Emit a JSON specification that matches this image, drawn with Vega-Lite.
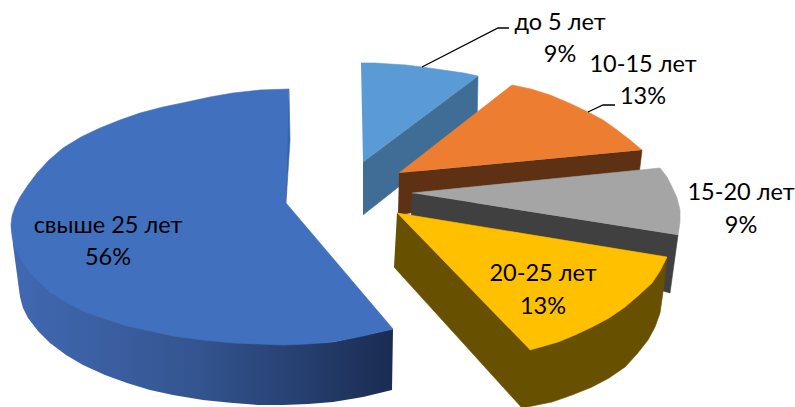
{"$schema":"https://vega.github.io/schema/vega-lite/v6.json","width":795,"height":407,"autosize":{"type":"none","contains":"padding"},"padding":0,"background":"white","view":{"stroke":null},
"datasets":{
"wall":[{"o":1,"x":11,"y":223},{"o":2,"x":13,"y":245},{"o":3,"x":16,"y":267},{"o":4,"x":20,"y":297},{"o":5,"x":23,"y":308},{"o":6,"x":28,"y":318},{"o":7,"x":38,"y":331},{"o":8,"x":50,"y":343},{"o":9,"x":66,"y":355},{"o":10,"x":83,"y":365},{"o":11,"x":105,"y":375},{"o":12,"x":127,"y":383},{"o":13,"x":150,"y":390},{"o":14,"x":173,"y":395},{"o":15,"x":203,"y":400},{"o":16,"x":233,"y":403},{"o":17,"x":258,"y":405},{"o":18,"x":283,"y":405},{"o":19,"x":308,"y":404},{"o":20,"x":333,"y":402},{"o":21,"x":363,"y":397},{"o":22,"x":392,"y":390},{"o":23,"x":393,"y":329},{"o":24,"x":333,"y":342},{"o":25,"x":283,"y":344},{"o":26,"x":173,"y":335},{"o":27,"x":50,"y":292}],
"outline":[
{"part":"blue-inner","o":1,"x":289,"y":89},{"part":"blue-inner","o":2,"x":290,"y":140},{"part":"blue-inner","o":3,"x":286,"y":203},{"part":"blue-inner","o":4,"x":281,"y":198},{"part":"blue-inner","o":5,"x":285,"y":140},
{"part":"blue-top","o":1,"x":289,"y":89},{"part":"blue-top","o":2,"x":260,"y":90},{"part":"blue-top","o":3,"x":233,"y":93},{"part":"blue-top","o":4,"x":210,"y":97},{"part":"blue-top","o":5,"x":187,"y":102},{"part":"blue-top","o":6,"x":163,"y":107},{"part":"blue-top","o":7,"x":140,"y":113},{"part":"blue-top","o":8,"x":120,"y":120},{"part":"blue-top","o":9,"x":100,"y":128},{"part":"blue-top","o":10,"x":81,"y":137},{"part":"blue-top","o":11,"x":63,"y":148},{"part":"blue-top","o":12,"x":49,"y":160},{"part":"blue-top","o":13,"x":37,"y":173},{"part":"blue-top","o":14,"x":28,"y":185},{"part":"blue-top","o":15,"x":20,"y":197},{"part":"blue-top","o":16,"x":15,"y":207},{"part":"blue-top","o":17,"x":12,"y":216},{"part":"blue-top","o":18,"x":11,"y":225},{"part":"blue-top","o":19,"x":12,"y":236},{"part":"blue-top","o":20,"x":15,"y":247},{"part":"blue-top","o":21,"x":21,"y":259},{"part":"blue-top","o":22,"x":28,"y":270},{"part":"blue-top","o":23,"x":38,"y":281},{"part":"blue-top","o":24,"x":50,"y":292},{"part":"blue-top","o":25,"x":66,"y":302},{"part":"blue-top","o":26,"x":83,"y":311},{"part":"blue-top","o":27,"x":105,"y":319},{"part":"blue-top","o":28,"x":127,"y":326},{"part":"blue-top","o":29,"x":150,"y":331},{"part":"blue-top","o":30,"x":173,"y":336},{"part":"blue-top","o":31,"x":203,"y":340},{"part":"blue-top","o":32,"x":233,"y":343},{"part":"blue-top","o":33,"x":258,"y":344},{"part":"blue-top","o":34,"x":283,"y":345},{"part":"blue-top","o":35,"x":308,"y":344},{"part":"blue-top","o":36,"x":333,"y":342},{"part":"blue-top","o":37,"x":363,"y":336},{"part":"blue-top","o":38,"x":393,"y":329},{"part":"blue-top","o":39,"x":286,"y":203},
{"part":"light-wall","o":1,"x":363,"y":162},{"part":"light-wall","o":2,"x":478,"y":76},{"part":"light-wall","o":3,"x":477,"y":125},{"part":"light-wall","o":4,"x":363,"y":215},
{"part":"light-top","o":1,"x":361,"y":63},{"part":"light-top","o":2,"x":375,"y":63},{"part":"light-top","o":3,"x":390,"y":64},{"part":"light-top","o":4,"x":406,"y":65},{"part":"light-top","o":5,"x":422,"y":67},{"part":"light-top","o":6,"x":436,"y":69},{"part":"light-top","o":7,"x":450,"y":71},{"part":"light-top","o":8,"x":464,"y":73},{"part":"light-top","o":9,"x":478,"y":76},{"part":"light-top","o":10,"x":363,"y":162},
{"part":"orange-wall","o":1,"x":399,"y":173},{"part":"orange-wall","o":2,"x":642,"y":150},{"part":"orange-wall","o":3,"x":639,"y":175},{"part":"orange-wall","o":4,"x":398,"y":215},
{"part":"orange-top","o":1,"x":399,"y":173},{"part":"orange-top","o":2,"x":512,"y":85},{"part":"orange-top","o":3,"x":531,"y":89},{"part":"orange-top","o":4,"x":550,"y":95},{"part":"orange-top","o":5,"x":569,"y":103},{"part":"orange-top","o":6,"x":588,"y":112},{"part":"orange-top","o":7,"x":603,"y":120},{"part":"orange-top","o":8,"x":617,"y":130},{"part":"orange-top","o":9,"x":630,"y":140},{"part":"orange-top","o":10,"x":642,"y":150},
{"part":"gray-wall","o":1,"x":412,"y":193},{"part":"gray-wall","o":2,"x":678,"y":235},{"part":"gray-wall","o":3,"x":670,"y":293},{"part":"gray-wall","o":4,"x":411,"y":218},
{"part":"gray-top","o":1,"x":412,"y":193},{"part":"gray-top","o":2,"x":660,"y":168},{"part":"gray-top","o":3,"x":667,"y":177},{"part":"gray-top","o":4,"x":672,"y":187},{"part":"gray-top","o":5,"x":677,"y":198},{"part":"gray-top","o":6,"x":680,"y":210},{"part":"gray-top","o":7,"x":680,"y":222},{"part":"gray-top","o":8,"x":678,"y":235},
{"part":"yellow-wall","o":1,"x":397,"y":213},{"part":"yellow-wall","o":2,"x":667,"y":257},{"part":"yellow-wall","o":3,"x":664,"y":285},{"part":"yellow-wall","o":4,"x":660,"y":313},{"part":"yellow-wall","o":5,"x":655,"y":327},{"part":"yellow-wall","o":6,"x":648,"y":340},{"part":"yellow-wall","o":7,"x":637,"y":354},{"part":"yellow-wall","o":8,"x":625,"y":367},{"part":"yellow-wall","o":9,"x":609,"y":378},{"part":"yellow-wall","o":10,"x":592,"y":387},{"part":"yellow-wall","o":11,"x":572,"y":395},{"part":"yellow-wall","o":12,"x":552,"y":402},{"part":"yellow-wall","o":13,"x":537,"y":405},{"part":"yellow-wall","o":14,"x":522,"y":408},{"part":"yellow-wall","o":15,"x":394,"y":267},
{"part":"yellow-top","o":1,"x":397,"y":213},{"part":"yellow-top","o":2,"x":667,"y":257},{"part":"yellow-top","o":3,"x":660,"y":271},{"part":"yellow-top","o":4,"x":652,"y":283},{"part":"yellow-top","o":5,"x":639,"y":295},{"part":"yellow-top","o":6,"x":625,"y":307},{"part":"yellow-top","o":7,"x":609,"y":318},{"part":"yellow-top","o":8,"x":592,"y":327},{"part":"yellow-top","o":9,"x":575,"y":335},{"part":"yellow-top","o":10,"x":558,"y":342},{"part":"yellow-top","o":11,"x":544,"y":346},{"part":"yellow-top","o":12,"x":530,"y":350}
],
"leaders":[{"name":"a","o":1,"x":422,"y":67},{"name":"a","o":2,"x":498,"y":28},{"name":"a","o":3,"x":509,"y":28},{"name":"b","o":1,"x":588,"y":112},{"name":"b","o":2,"x":603,"y":105},{"name":"b","o":3,"x":615,"y":105}],
"labels":[{"category":"до 5 лет","share":0.09,"x":560,"y1":23,"y2":55},{"category":"10-15 лет","share":0.13,"x":643,"y1":65,"y2":97},{"category":"15-20 лет","share":0.09,"x":741,"y1":193,"y2":226},{"category":"20-25 лет","share":0.13,"x":543,"y1":274,"y2":307},{"category":"свыше 25 лет","share":0.56,"x":108,"y1":226,"y2":258}]
},
"encoding":{"x":{"field":"x","type":"quantitative","scale":{"domain":[0,795]},"axis":null},"y":{"field":"y","type":"quantitative","scale":{"domain":[407,0]},"axis":null}},
"layer":[
{"data":{"name":"wall"},"mark":{"type":"line","strokeWidth":0,"fill":{"gradient":"linear","x1":0,"y1":0,"x2":1,"y2":0,"stops":[{"offset":0,"color":"#4169B2"},{"offset":0.5,"color":"#33548F"},{"offset":1,"color":"#1A2C52"}]}},"encoding":{"order":{"field":"o","type":"quantitative"}}},
{"data":{"name":"outline"},"mark":{"type":"line","strokeWidth":0.6},"encoding":{"order":{"field":"o","type":"quantitative"},
"fill":{"field":"part","type":"nominal","legend":null,"scale":{"domain":["blue-inner","blue-top","light-wall","light-top","orange-wall","orange-top","gray-wall","gray-top","yellow-wall","yellow-top"],"range":["#3A62A8","#4170BE","#3F6D96","#5B9BD5","#5E3115","#ED7D31","#404040","#A5A5A5","#675000","#FFC000"]}},
"stroke":{"field":"part","type":"nominal","legend":null,"scale":{"domain":["blue-inner","blue-top","light-wall","light-top","orange-wall","orange-top","gray-wall","gray-top","yellow-wall","yellow-top"],"range":["#3A62A8","#4170BE","#3F6D96","#5B9BD5","#5E3115","#ED7D31","#404040","#A5A5A5","#675000","#FFC000"]}}}},
{"data":{"name":"leaders"},"mark":{"type":"line","stroke":"black","strokeWidth":1.3},"encoding":{"detail":{"field":"name"},"order":{"field":"o","type":"quantitative"}}},
{"data":{"name":"labels"},"mark":{"type":"text","font":"Lato","fontSize":23.5,"color":"black"},"encoding":{"y":{"field":"y1","type":"quantitative"},"text":{"field":"category"}}},
{"data":{"name":"labels"},"mark":{"type":"text","font":"Lato","fontSize":23.5,"color":"black"},"encoding":{"y":{"field":"y2","type":"quantitative"},"text":{"field":"share","type":"quantitative","format":".0%"}}}
]}
